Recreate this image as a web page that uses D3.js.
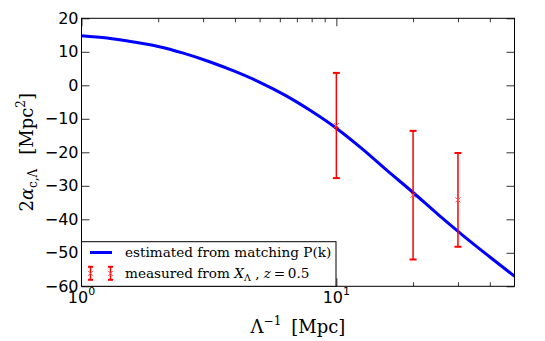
<!DOCTYPE html>
<html>
<head>
<meta charset="utf-8">
<script src="https://cdn.jsdelivr.net/npm/d3@7"></script>
<style>
body { margin: 0; background: #fff; }
svg { display: block; }
</style>
</head>
<body>
<div id="chart"></div>
<script>
// curve (x in Mpc, y in Mpc^2)
const curveX = [1, 1.26, 1.58, 2, 2.51, 3.16, 3.98, 5.01, 6.31, 7.94, 10, 12.6, 15.8, 20, 25.1, 31.6, 39.8, 50];
const curveY = [14.8, 14.1, 13.0, 11.6, 9.6, 7.1, 4.2, 0.9, -3.0, -7.6, -12.8, -18.9, -25.4, -32.0, -38.6, -45.0, -51.1, -57.0];

// measured points with symmetric error bars
const measX = [10, 20, 30];
const measY = [-12.0, -32.8, -34.2];
const measErr = [15.7, 19.2, 14.0];

// ticks
const yTicks = [20, 10, 0, -10, -20, -30, -40, -50, -60];
const xMajor = [1, 10];
const xMinor = [2, 3, 4, 5, 6, 7, 8, 9, 20, 30, 40];

const width = 545, height = 341;
const margin = {top: 18.3, right: 30.5, bottom: 54.7, left: 81.5};

const svg = d3.select("#chart")
    .append("svg")
    .attr("width", width)
    .attr("height", height);

const x = d3.scaleLog().domain([1, 50]).range([margin.left, width - margin.right]);
const y = d3.scaleLinear().domain([-60, 20]).range([height - margin.bottom, margin.top]);

const minus = d => d < 0 ? "\u2212" + Math.abs(d) : String(d);

// axes, ticks pointing inward
function styleAxis(g) {
    g.select(".domain").remove();
    g.selectAll(".tick line").attr("stroke", "#333");
    g.selectAll("text")
        .attr("font-family", "DejaVu Sans")
        .attr("font-size", 16)
        .attr("fill", "#000");
}

svg.append("g")
    .attr("transform", `translate(${margin.left},0)`)
    .call(d3.axisLeft(y).tickValues(yTicks).tickSize(-8).tickPadding(3).tickFormat(minus))
    .call(styleAxis);

svg.append("g")
    .attr("transform", `translate(${width - margin.right},0)`)
    .call(d3.axisRight(y).tickValues(yTicks).tickSize(-8).tickFormat(""))
    .call(styleAxis);

const bottomY = height - margin.bottom;
svg.append("g")
    .attr("transform", `translate(0,${bottomY})`)
    .call(d3.axisBottom(x).tickValues(xMajor).tickSize(-8).tickFormat(""))
    .call(styleAxis);
svg.append("g")
    .attr("transform", `translate(0,${bottomY})`)
    .call(d3.axisBottom(x).tickValues(xMinor).tickSize(-4).tickFormat(""))
    .call(styleAxis);
svg.append("g")
    .attr("transform", `translate(0,${margin.top})`)
    .call(d3.axisTop(x).tickValues(xMajor).tickSize(-8).tickFormat(""))
    .call(styleAxis);
svg.append("g")
    .attr("transform", `translate(0,${margin.top})`)
    .call(d3.axisTop(x).tickValues(xMinor).tickSize(-4).tickFormat(""))
    .call(styleAxis);

// x tick labels as 10^n
const xLabels = svg.append("g");
xMajor.forEach(v => {
    const t = xLabels.append("text")
        .attr("x", x(v))
        .attr("y", bottomY + 17)
        .attr("text-anchor", "middle")
        .attr("font-family", "DejaVu Sans")
        .attr("font-size", 16);
    t.append("tspan").text("10");
    t.append("tspan").attr("font-size", 11).attr("dy", -8).text(Math.round(Math.log10(v)));
});

// clip for plot contents
svg.append("clipPath").attr("id", "clip")
    .append("rect")
    .attr("x", margin.left).attr("y", margin.top)
    .attr("width", width - margin.left - margin.right)
    .attr("height", height - margin.top - margin.bottom);

const plot = svg.append("g").attr("clip-path", "url(#clip)");

const line = d3.line()
    .x(d => x(d[0]))
    .y(d => y(d[1]))
    .curve(d3.curveMonotoneX);

plot.append("path")
    .datum(curveX.map((v, i) => [v, curveY[i]]))
    .attr("d", line)
    .attr("fill", "none")
    .attr("stroke", "#0000ff")
    .attr("stroke-width", 3);

// error bars
function errBar(g, cx, cy, top, bot, cap, mk) {
    g.append("line").attr("x1", cx).attr("x2", cx).attr("y1", top).attr("y2", bot)
        .attr("stroke", "#ff0000").attr("stroke-width", 1.5);
    [top, bot].forEach(yy => {
        g.append("line").attr("x1", cx - cap).attr("x2", cx + cap).attr("y1", yy).attr("y2", yy)
            .attr("stroke", "#ff0000").attr("stroke-width", 2);
    });
    g.append("path")
        .attr("d", `M${cx - mk},${cy - mk}L${cx + mk},${cy + mk}M${cx - mk},${cy + mk}L${cx + mk},${cy - mk}`)
        .attr("stroke", "#ff5050").attr("stroke-width", 1);
}

const errG = svg.append("g");
measX.forEach((v, i) => {
    errBar(errG, x(v), y(measY[i]), y(measY[i] + measErr[i]), y(measY[i] - measErr[i]), 3.5, 2.5);
});

// frame
svg.append("rect")
    .attr("x", margin.left).attr("y", margin.top)
    .attr("width", width - margin.left - margin.right)
    .attr("height", height - margin.top - margin.bottom)
    .attr("fill", "none")
    .attr("stroke", "#000")
    .attr("stroke-width", 1);

// legend
const leg = svg.append("g");
leg.append("rect")
    .attr("x", margin.left).attr("y", 241.7)
    .attr("width", 336 - margin.left).attr("height", bottomY - 241.7)
    .attr("fill", "#fff").attr("stroke", "#000").attr("stroke-width", 1);
leg.append("line")
    .attr("x1", 90).attr("x2", 112).attr("y1", 252.5).attr("y2", 252.5)
    .attr("stroke", "#0000ff").attr("stroke-width", 3);
leg.append("text")
    .attr("x", 125).attr("y", 257)
    .attr("font-family", "DejaVu Serif").attr("font-size", 13.6)
    .text("estimated from matching P(k)");
[90.5, 110.5].forEach(cx => errBar(leg, cx, 273.3, 266.8, 279.8, 2.5, 2.5));
const t2 = leg.append("text")
    .attr("x", 125).attr("y", 277.5)
    .attr("font-family", "DejaVu Serif").attr("font-size", 13.6);
t2.append("tspan").text("measured from ");
t2.append("tspan").attr("font-style", "italic").text("X");
t2.append("tspan").attr("font-size", 9.5).attr("dy", 3).text("\u039b");
t2.append("tspan").attr("dy", -3).text(" , ");
t2.append("tspan").attr("font-style", "italic").text("z");
t2.append("tspan").text("\u2009=\u20090.5");

// axis labels
const xl = svg.append("text")
    .attr("x", (margin.left + width - margin.right) / 2)
    .attr("y", 333)
    .attr("text-anchor", "middle")
    .attr("font-family", "DejaVu Serif").attr("font-size", 18);
xl.append("tspan").text("\u039b");
xl.append("tspan").attr("font-size", 12).attr("dy", -8).text("\u22121");
xl.append("tspan").attr("dy", 8).attr("dx", 10).text("[Mpc]");

const yl = svg.append("text")
    .attr("transform", `translate(33,${(margin.top + bottomY) / 2}) rotate(-90)`)
    .attr("text-anchor", "middle")
    .attr("font-family", "DejaVu Serif").attr("font-size", 18);
yl.append("tspan").text("2");
yl.append("tspan").attr("font-style", "italic").text("\u03b1");
yl.append("tspan").attr("font-size", 12).attr("dy", 4).text("c,\u039b");
yl.append("tspan").attr("dy", -4).attr("dx", 14).text("[Mpc");
yl.append("tspan").attr("font-size", 12).attr("dy", -8).text("2");
yl.append("tspan").attr("dy", 8).text("]");
</script>
</body>
</html>
